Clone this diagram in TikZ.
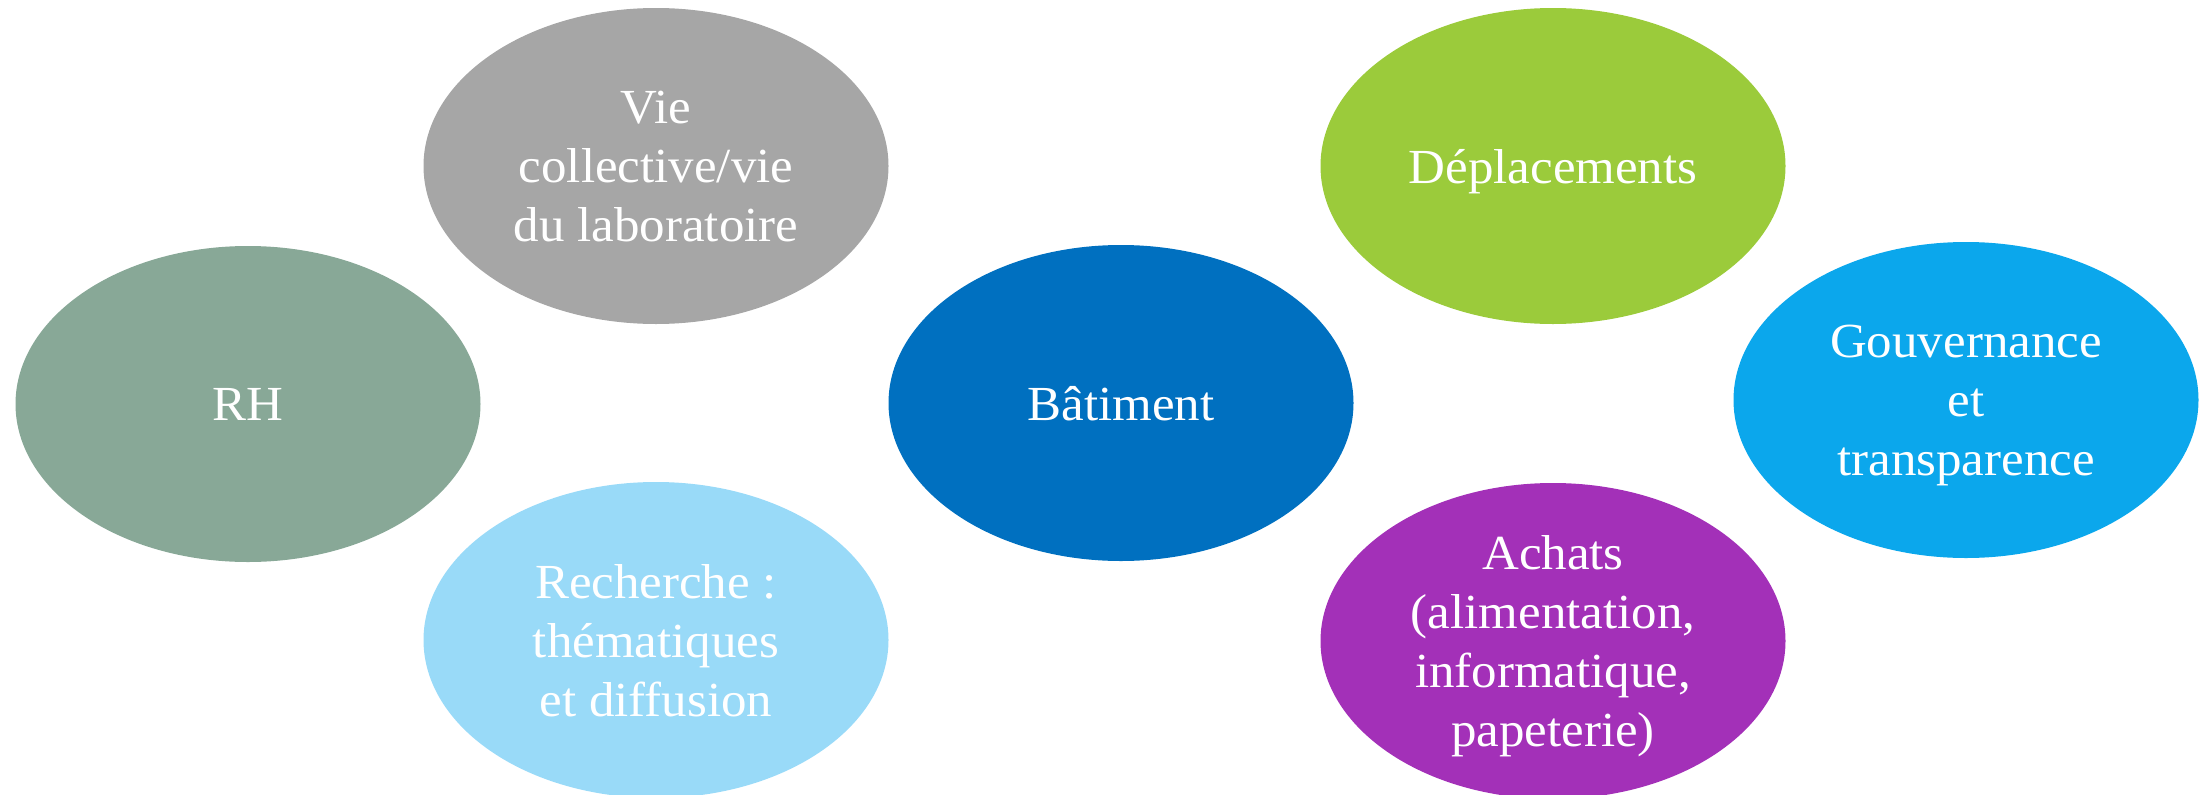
\documentclass[tikz,border=0pt]{standalone}
\usepackage{fontspec}
\setmainfont[FakeStretch=1.04]{Liberation Serif}
\usetikzlibrary{shapes.geometric}
\definecolor{cRH}{HTML}{88A897}
\definecolor{cVie}{HTML}{A6A6A6}
\definecolor{cRech}{HTML}{99DAF8}
\definecolor{cBat}{HTML}{0070C0}
\definecolor{cDep}{HTML}{9BCB3B}
\definecolor{cAch}{HTML}{A330B8}
\definecolor{cGouv}{HTML}{0BA7EC}
\begin{document}
\begin{tikzpicture}[x=1pt,y=-1pt,
  bubble/.style={ellipse, minimum width=465pt, minimum height=316pt, inner sep=0pt,
    text=white, align=center, text depth=0pt, font=\fontsize{49}{59}\selectfont}]
\useasboundingbox (0,0) rectangle (2206,795);
\node[bubble, fill=cRH] (rh) at (248,404) {RH};
\node[bubble, fill=cVie] (vie) at (656,166) {Vie\\collective/vie\\du laboratoire};
\node[bubble, fill=cRech] (rech) at (656,640) {Recherche :\\thématiques\\et diffusion};
\node[bubble, fill=cBat] (bat) at (1121,403) {Bâtiment};
\node[bubble, fill=cDep] (dep) at (1553,166) {Déplacements};
\node[bubble, fill=cAch] (ach) at (1553,641) {Achats\\(alimentation,\\informatique,\\papeterie)};
\node[bubble, fill=cGouv] (gouv) at (1966,400) {Gouvernance\\et\\transparence};
\end{tikzpicture}
\end{document}
